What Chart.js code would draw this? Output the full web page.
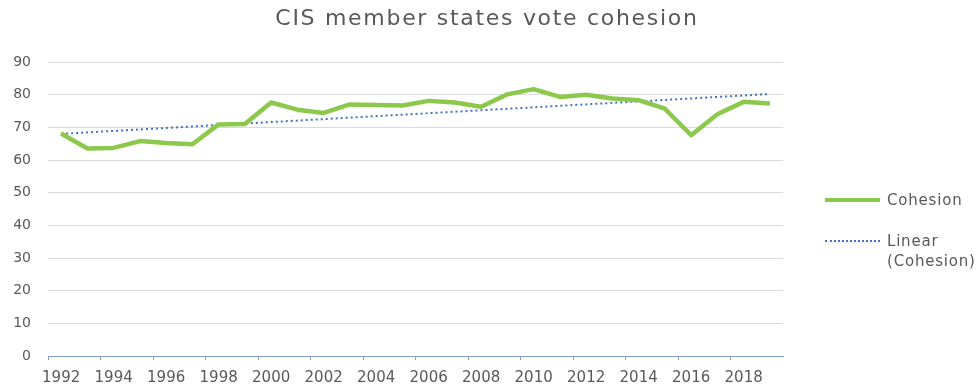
<!DOCTYPE html>
<html>
<head>
<meta charset="utf-8">
<script src="https://cdn.jsdelivr.net/npm/chart.js@4.4.0/dist/chart.umd.min.js"></script>
<style>
    body { margin: 0; background: #fff; }
    #wrap { position: relative; width: 978px; height: 385px; }
    #title { position: absolute; left: 0; width: 974px; top: 5px; text-align: center; font-family: 'DejaVu Sans', sans-serif; font-size: 22px; color: #595959; letter-spacing: 1.7px; }
    .legend-item { position: absolute; left: 825px; font-family: 'DejaVu Sans', sans-serif; font-size: 15px; color: #595959; line-height: 20px; letter-spacing: 0.8px; }
    .legend-item .swatch { position: absolute; left: 0; width: 55px; }
    .legend-item span { position: absolute; left: 62px; white-space: nowrap; }
</style>
</head>
<body>
<div id="wrap">
    <canvas id="chart" width="978" height="385"></canvas>
    <div id="title">CIS member states vote cohesion</div>
    <div class="legend-item" style="top:190px">
        <div class="swatch" style="top:8px; border-top:4px solid #8cc84b;"></div>
        <span>Cohesion</span>
    </div>
    <div class="legend-item" style="top:231px">
        <div class="swatch" style="top:9px; border-top:2px dotted #4472c4;"></div>
        <span>Linear<br>(Cohesion)</span>
    </div>
</div>
<script>
// Chart data
const years = ['1992', '1993', '1994', '1995', '1996', '1997', '1998', '1999', '2000', '2001',
    '2002', '2003', '2004', '2005', '2006', '2007', '2008', '2009', '2010', '2011',
    '2012', '2013', '2014', '2015', '2016', '2017', '2018', '2019'];
const cohesion = [68.1, 63.5, 63.7, 65.8, 65.2, 64.8, 70.9, 71.0, 77.6, 75.4,
    74.4, 77.0, 76.8, 76.7, 78.1, 77.6, 76.3, 80.1, 81.7, 79.3,
    80.0, 78.8, 78.3, 75.7, 67.6, 74.0, 77.8, 77.3];
// trend line ends, the gap between is spanned
const trendStart = 68.0;
const trendEnd = 80.2;
const yTicks = [0, 10, 20, 30, 40, 50, 60, 70, 80, 90];

const trend = years.map((y, i) => i === 0 ? trendStart : (i === years.length - 1 ? trendEnd : null));
const tickColor = '#595959';
const axisBlue = '#7f9fd6';

new Chart(document.getElementById('chart'), {
    type: 'line',
    data: {
        labels: years,
        datasets: [
            {
                label: 'Cohesion',
                data: cohesion,
                borderColor: '#8cc84b',
                borderWidth: 4.5,
                pointRadius: 0,
                tension: 0,
                borderJoinStyle: 'round'
            },
            {
                label: 'Linear (Cohesion)',
                data: trend,
                borderColor: '#4472c4',
                borderWidth: 2,
                borderDash: [2, 3],
                pointRadius: 0,
                spanGaps: true
            }
        ]
    },
    options: {
        responsive: false,
        animation: false,
        layout: { padding: { left: 0, right: 195, top: 62, bottom: 0 } },
        plugins: {
            legend: { display: false },
            tooltip: { enabled: false },
            title: { display: false }
        },
        scales: {
            y: {
                min: yTicks[0],
                max: yTicks[yTicks.length - 1],
                afterBuildTicks: (scale) => { scale.ticks = yTicks.map(v => ({ value: v })); },
                afterFit: (scale) => { scale.width = 48; },
                border: { display: false },
                grid: { color: '#d9d9d9', drawTicks: false },
                ticks: { color: tickColor, font: { family: 'DejaVu Sans', size: 14 }, padding: 17 }
            },
            x: {
                offset: true,
                afterFit: (scale) => { scale.height = 29; },
                border: { color: axisBlue, width: 1 },
                grid: {
                    offset: true,
                    drawOnChartArea: false,
                    drawTicks: true,
                    tickLength: 4,
                    // tick marks every second year boundary
                    color: (ctx) => ctx.index % 2 === 0 ? axisBlue : 'rgba(0,0,0,0)'
                },
                ticks: {
                    autoSkip: false,
                    maxRotation: 0,
                    color: tickColor,
                    font: { family: 'DejaVu Sans', size: 15 },
                    padding: 9,
                    callback: function (val, i) { return i % 2 === 0 ? this.getLabelForValue(val) : ''; }
                }
            }
        }
    }
});
</script>
</body>
</html>
